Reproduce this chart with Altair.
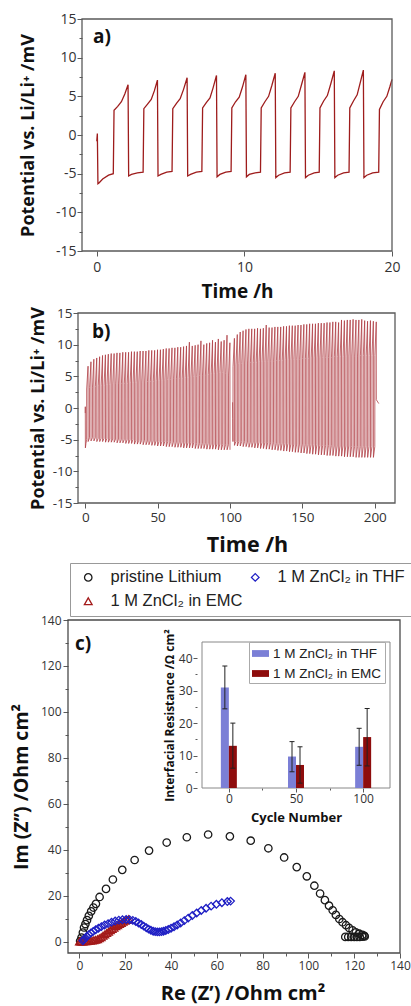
import altair as alt
import pandas as pd

# ====================== DATA ======================
# Panel a) first 20 h of Li|Li cycling
a_time_h = [
    0.00, 0.04, 0.08, 0.15, 0.40, 0.80, 1.12,
    1.17, 1.42, 1.67, 1.90, 2.12, 2.16, 2.35, 2.75, 3.14,
    3.19, 3.44, 3.69, 3.90, 4.11, 4.15, 4.34, 4.74, 5.10,
    5.15, 5.40, 5.65, 5.88, 6.12, 6.16, 6.35, 6.75, 7.12,
    7.17, 7.42, 7.67, 7.88, 8.11, 8.15, 8.34, 8.74, 9.10,
    9.15, 9.40, 9.65, 9.87, 10.10, 10.14, 10.33, 10.73, 11.09,
    11.14, 11.39, 11.64, 11.86, 12.09, 12.13, 12.32, 12.72, 13.10,
    13.15, 13.40, 13.65, 13.87, 14.10, 14.14, 14.33, 14.73, 15.07,
    15.12, 15.37, 15.62, 15.85, 16.09, 16.13, 16.32, 16.72, 17.09,
    17.14, 17.39, 17.64, 17.84, 18.06, 18.10, 18.29, 18.69, 19.10,
    19.15, 19.40, 19.65, 19.85, 20.00,
]
a_potential_mv = [
    -0.8, 0.2, -6.3, -6.2, -5.7, -5.2, -5.0,
    3.2, 3.7, 4.3, 5.3, 6.5, -5.3, -5.1, -4.9, -4.8,
    3.4, 4.0, 4.6, 5.7, 7.1, -5.3, -5.1, -4.8, -4.7,
    3.4, 4.1, 4.7, 5.9, 7.4, -5.3, -5.1, -4.8, -4.7,
    3.5, 4.2, 4.8, 6.1, 7.7, -5.4, -5.1, -4.8, -4.7,
    3.5, 4.3, 4.9, 6.2, 7.8, -5.4, -5.1, -4.9, -4.8,
    3.5, 4.3, 5.0, 6.4, 8.0, -5.5, -5.2, -4.9, -4.8,
    3.5, 4.3, 5.0, 6.5, 8.1, -5.5, -5.2, -4.9, -4.8,
    3.5, 4.4, 5.1, 6.6, 8.3, -5.5, -5.2, -4.9, -4.8,
    3.5, 4.4, 5.2, 6.7, 8.4, -5.5, -5.2, -4.9, -4.8,
    3.3, 4.3, 5.0, 6.2, 7.2,
]

# Panel b) 200 h, one value per cycle (1 h / 1 h steps)
b_cycle_start_h = [1.0 + 2.0 * k for k in range(50)] + [102.1 + 2.0 * k for k in range(50)]
b_peak_mv = [
    6.6, 7.3, 7.7, 7.9, 8.1, 8.3, 8.4, 8.5, 8.6, 8.6,
    8.7, 8.7, 8.8, 8.8, 8.8, 8.9, 8.9, 8.9, 9.0, 9.0,
    9.0, 9.1, 9.1, 9.1, 9.2, 9.2, 9.3, 9.4, 9.4, 9.5,
    9.5, 9.6, 9.6, 9.7, 9.8, 10.4, 9.8, 9.9, 10.0, 10.6,
    10.0, 10.2, 10.3, 10.7, 10.4, 10.9, 10.5, 10.7, 11.5, 10.3,
    11.0, 11.6, 12.0, 12.2, 12.4, 12.5, 12.5, 12.5, 12.6, 12.5,
    12.6, 13.1, 12.7, 12.7, 12.8, 12.8, 12.8, 12.9, 12.9, 13.0,
    13.0, 13.0, 13.1, 13.1, 13.2, 13.2, 13.3, 13.3, 13.3, 13.4,
    13.4, 13.4, 13.5, 13.5, 13.6, 13.6, 13.5, 13.9, 13.8, 13.9,
    13.9, 14.0, 13.9, 13.9, 14.0, 13.8, 13.7, 13.8, 13.7, 13.6,
]
b_jump_mv = [
    3.0, 3.2, 3.3, 3.4, 3.5, 3.6, 3.6, 3.7, 3.7, 3.8,
    3.8, 3.8, 3.9, 3.9, 3.9, 4.0, 4.0, 4.0, 4.1, 4.1,
    4.1, 4.2, 4.2, 4.2, 4.3, 4.3, 4.4, 4.4, 4.5, 4.5,
    4.6, 4.6, 4.7, 4.7, 4.8, 4.8, 4.9, 5.0, 5.0, 5.1,
    5.2, 5.2, 5.3, 5.4, 5.4, 5.5, 5.6, 5.6, 5.5, 5.2,
    6.5, 6.8, 7.0, 7.0, 7.1, 7.1, 7.2, 7.2, 7.2, 7.3,
    7.3, 7.3, 7.4, 7.4, 7.4, 7.5, 7.5, 7.5, 7.6, 7.6,
    7.6, 7.7, 7.7, 7.7, 7.8, 7.8, 7.8, 7.9, 7.9, 7.9,
    7.9, 8.0, 8.0, 8.0, 8.0, 8.1, 8.1, 8.1, 8.1, 8.2,
    8.2, 8.2, 8.2, 8.2, 8.3, 8.3, 8.3, 8.3, 8.3, 8.3,
]
b_trough_mv = [
    -5.3, -5.2, -5.2, -5.3, -5.3, -5.3, -5.4, -5.4, -5.4, -5.4,
    -5.5, -5.5, -5.5, -5.6, -5.6, -5.6, -5.7, -5.7, -5.7, -5.8,
    -5.8, -5.8, -5.9, -5.9, -6.0, -6.0, -6.0, -6.1, -6.1, -6.1,
    -6.2, -6.2, -6.2, -6.3, -6.3, -6.3, -6.3, -6.4, -6.4, -6.4,
    -6.4, -6.5, -6.5, -6.5, -6.5, -6.6, -6.6, -6.6, -6.6, -6.6,
    -5.9, -6.0, -6.0, -6.1, -6.1, -6.2, -6.2, -6.3, -6.3, -6.4,
    -6.4, -6.5, -6.5, -6.6, -6.6, -6.7, -6.7, -6.8, -6.8, -6.9,
    -6.9, -7.0, -7.0, -7.1, -7.1, -7.2, -7.2, -7.3, -7.3, -7.4,
    -7.4, -7.4, -7.5, -7.5, -7.5, -7.6, -7.6, -7.6, -7.7, -7.7,
    -7.7, -7.7, -7.8, -7.8, -7.8, -7.8, -7.8, -7.8, -7.8, -7.8,
]
b_plateau_mv = [
    -4.7, -4.7, -4.7, -4.8, -4.8, -4.8, -4.8, -4.9, -4.9, -4.9,
    -4.9, -5.0, -5.0, -5.0, -5.0, -5.0, -5.1, -5.1, -5.1, -5.1,
    -5.2, -5.2, -5.2, -5.2, -5.3, -5.3, -5.3, -5.3, -5.3, -5.4,
    -5.4, -5.4, -5.4, -5.5, -5.5, -5.5, -5.5, -5.6, -5.6, -5.6,
    -5.6, -5.6, -5.7, -5.7, -5.7, -5.7, -5.8, -5.8, -5.8, -5.8,
    -5.3, -5.3, -5.3, -5.3, -5.4, -5.4, -5.4, -5.4, -5.4, -5.5,
    -5.5, -5.5, -5.5, -5.5, -5.6, -5.6, -5.6, -5.6, -5.6, -5.7,
    -5.7, -5.7, -5.7, -5.7, -5.8, -5.8, -5.8, -5.8, -5.8, -5.9,
    -5.9, -5.9, -5.9, -5.9, -6.0, -6.0, -6.0, -6.0, -6.0, -6.0,
    -6.1, -6.1, -6.1, -6.1, -6.1, -6.1, -6.1, -6.1, -6.1, -6.1,
]
b_lead_in_h = [0.0, 0.05, 0.10, 0.50, 0.95]
b_lead_in_mv = [-0.8, 0.2, -6.3, -5.6, -5.0]
b_restart_h = [101.8, 101.95, 102.05]
b_restart_mv = [0.9, -1.7, -5.3]
b_rest_end_h = [201.1, 201.7, 202.8]
b_rest_end_mv = [1.3, 1.1, 0.7]

# Panel c) Nyquist plots
series_names = ["pristine Lithium", "1 M ZnCl\u2082 in THF", "1 M ZnCl\u2082 in EMC"]
pristine_re = [0.3, 0.9, 1.5, 2.0, 2.6, 3.3, 4.1, 5.1, 6.1, 7.2,
               8.8, 11.6, 14.6, 18.7, 24.1, 30.4, 38.1, 46.9, 56.2, 65.7,
               74.8, 82.5, 89.4, 94.9, 99.3, 102.6, 105.1, 107.2, 109.0, 110.6,
               112.0, 113.5, 114.9, 116.4, 117.8, 119.3, 120.7, 122.2, 123.6, 124.4,
               124.6, 123.6, 122.4, 121.2, 120.0, 118.7, 117.4, 116.1]
pristine_im = [0.2, 1.7, 3.9, 6.1, 7.6, 9.3, 11.2, 13.1, 14.8, 16.4,
               19.4, 22.9, 27.0, 31.2, 35.5, 39.6, 43.1, 45.4, 46.6, 45.8,
               43.9, 40.6, 36.6, 32.4, 28.4, 24.3, 20.9, 18.0, 15.6, 13.6,
               11.6, 9.8, 8.4, 7.1, 5.9, 4.9, 4.0, 3.4, 2.9, 2.5,
               2.2, 2.1, 2.0, 2.0, 2.0, 2.0, 2.0, 2.0]
thf_re = [1.5, 2.0, 2.6, 3.3, 4.1, 5.0, 6.0, 7.1, 8.3, 9.6,
          11.0, 12.5, 14.0, 15.6, 17.2, 18.8, 20.4, 21.9, 23.3, 24.6,
          25.8, 27.0, 28.1, 29.2, 30.2, 31.2, 32.2, 33.1, 34.0, 34.9,
          35.8, 36.7, 37.7, 38.8, 40.0, 41.3, 42.7, 44.2, 45.8, 47.5,
          49.3, 51.2, 53.2, 55.3, 57.5, 59.8, 62.2, 64.6, 66.0]
thf_im = [0.3, 0.9, 1.6, 2.3, 3.0, 3.7, 4.4, 5.1, 5.8, 6.5,
          7.2, 7.8, 8.4, 8.9, 9.3, 9.5, 9.6, 9.5, 9.2, 8.7,
          8.1, 7.4, 6.7, 6.0, 5.4, 4.9, 4.5, 4.3, 4.2, 4.2,
          4.3, 4.5, 4.8, 5.2, 5.8, 6.4, 7.2, 8.1, 9.1, 10.2,
          11.3, 12.4, 13.5, 14.5, 15.4, 16.2, 16.9, 17.4, 17.6]
emc_re = [0.0, 0.5, 1.1, 1.7, 2.4, 3.1, 3.9, 4.7, 5.5, 6.3,
          7.1, 7.9, 8.7, 9.5, 10.3, 11.1, 11.9, 12.7, 13.5, 14.3,
          15.1, 15.9, 16.7, 17.5, 18.3, 19.1, 19.9, 20.7, 21.5]
emc_im = [0.0, 0.0, 0.0, 0.05, 0.1, 0.15, 0.2, 0.3, 0.4, 0.55,
          0.75, 1.0, 1.4, 1.9, 2.5, 3.1, 3.7, 4.3, 4.9, 5.5,
          6.0, 6.6, 7.1, 7.6, 8.1, 8.6, 9.0, 9.4, 9.7]

# Inset: interfacial resistance vs cycle number
inset_cycles = [0, 50, 100]
solvents = ["1 M ZnCl\u2082 in THF", "1 M ZnCl\u2082 in EMC"]
thf_mean = [31.0, 9.7, 12.7]
thf_low = [24.4, 5.0, 7.0]
thf_high = [37.6, 14.3, 18.4]
emc_mean = [13.0, 7.1, 15.7]
emc_low = [6.1, 1.5, 6.8]
emc_high = [20.0, 12.7, 24.5]

# axis domains and ticks
a_x_domain, a_y_domain = [-1, 20], [-15, 15]
b_x_domain, b_y_domain = [-5, 214], [-15, 15]
c_x_domain, c_y_domain = [-5, 140], [-5, 140]
i_x_domain, i_y_domain = [-20, 120], [0, 45]
pot_ticks = [-15, -12.5, -10, -7.5, -5, -2.5, 0, 2.5, 5, 7.5, 10, 12.5, 15]
c_ticks = list(range(0, 141, 10))
inset_y_ticks = [0, 5, 10, 15, 20, 25, 30, 35, 40]
inset_x_ticks = [0, 25, 50, 75, 100]

# ====================== LAYOUT (pixel boxes of each plot area) ======================
W, H = 411, 1006
BOX_A = (82, 392, 19, 251)     # x0, x1, y0(top), y1(bottom)
BOX_B = (78, 395, 313, 503)
BOX_C = (68, 400, 620, 953)
BOX_I = (197, 395, 642, 788)

FONT = "Open Sans"
FRAME = "#5a5a5a"
POT_TITLE = "Potential vs. Li/Li\u207a /mV"


def xs(domain, box):
    return alt.Scale(domain=domain, range=[box[0], box[1]], nice=False, zero=False)


def ys(domain, box):
    return alt.Scale(domain=domain, range=[box[3], box[2]], nice=False)


def major_minor(step, big=5, small=3):
    return {"condition": {"test": f"datum.value % {step} === 0", "value": big}, "value": small}


def major_labels(step):
    return f"datum.value % {step} === 0 ? '' + datum.value : ''"


def left_axis(box, **kw):
    return alt.Axis(orient="left", offset=-box[0], domain=False, grid=False, labelOverlap=False, **kw)


def bottom_axis(box, **kw):
    return alt.Axis(orient="bottom", offset=box[3] - H, domain=False, grid=False, labelOverlap=False,
                    labelFlush=False, **kw)


def frame(xdom, ydom, xsc, ysc, xax, yax, fill="transparent", stroke=FRAME, width=1.3):
    df = pd.DataFrame({"x0": [xdom[0]], "x1": [xdom[1]], "y0": [ydom[0]], "y1": [ydom[1]]})
    return alt.Chart(df).mark_rect(fill=fill, stroke=stroke, strokeWidth=width).encode(
        x=alt.X("x0:Q", scale=xsc, axis=xax), x2="x1:Q",
        y=alt.Y("y0:Q", scale=ysc, axis=yax), y2="y1:Q",
    )


def panel_label(text, x, y):
    return alt.Chart(pd.DataFrame({"l": [text]})).mark_text(
        align="left", baseline="middle", font=FONT, fontSize=19, fontWeight="bold", color="#111"
    ).encode(x=alt.value(x), y=alt.value(y), text="l:N")


# ====================== PANEL A ======================
a_xs, a_ys = xs(a_x_domain, BOX_A), ys(a_y_domain, BOX_A)
a_xax = bottom_axis(BOX_A, values=[0, 10, 20], title="Time /h", titleFontSize=19, labelFontSize=14,
                    titlePadding=8, labelPadding=4, tickSize=5)
a_yax = left_axis(BOX_A, values=pot_ticks, labelExpr=major_labels(5), tickSize=major_minor(5),
                  title=POT_TITLE, titleFontSize=18, labelFontSize=14, titlePadding=17.5, labelPadding=1)
a_df = pd.DataFrame({"t": a_time_h, "v": a_potential_mv, "i": range(len(a_time_h))})
a_line = alt.Chart(a_df).mark_line(color="#9e1c1c", strokeWidth=1.3, clip=True).encode(
    x=alt.X("t:Q", scale=a_xs, axis=a_xax),
    y=alt.Y("v:Q", scale=a_ys, axis=a_yax),
    order="i:Q",
)
panel_a = alt.layer(a_line, frame(a_x_domain, a_y_domain, a_xs, a_ys, a_xax, a_yax),
                    panel_label("a)", 93, 37))

# ====================== PANEL B ======================
b_t, b_v, b_s = [], [], []


def add(t, v, s):
    b_t.append(t)
    b_v.append(v)
    b_s.append(s)


for t, v in zip(b_lead_in_h, b_lead_in_mv):
    add(t, v, 1)
for k in range(50):
    s0 = b_cycle_start_h[k]
    add(s0, b_jump_mv[k], 1)
    add(s0 + 0.95, b_peak_mv[k], 1)
    add(s0 + 1.0, b_trough_mv[k], 1)
    if k < 49:
        add(s0 + 1.95, b_plateau_mv[k], 1)
for t, v in zip(b_restart_h, b_restart_mv):
    add(t, v, 2)
for k in range(50, 100):
    s0 = b_cycle_start_h[k]
    add(s0, b_jump_mv[k], 2)
    add(s0 + 0.95, b_peak_mv[k], 2)
    if k < 99:
        add(s0 + 1.0, b_trough_mv[k], 2)
        add(s0 + 1.95, b_plateau_mv[k], 2)
for t, v in zip(b_rest_end_h, b_rest_end_mv):
    add(t, v, 2)

b_xs, b_ys = xs(b_x_domain, BOX_B), ys(b_y_domain, BOX_B)
b_xax = bottom_axis(BOX_B, values=[0, 50, 100, 150, 200], title="Time /h", titleFontSize=21.5,
                    labelFontSize=13.5, titlePadding=10.5, labelPadding=2, tickSize=5, titleX=247)
b_yax = left_axis(BOX_B, values=pot_ticks, labelExpr=major_labels(5), tickSize=major_minor(5),
                  title=POT_TITLE, titleFontSize=18, labelFontSize=13.5, titlePadding=4.5, labelPadding=1)
b_df = pd.DataFrame({"t": b_t, "v": b_v, "seg": b_s, "i": range(len(b_t))})
b_line = alt.Chart(b_df).mark_line(color="#ad3a40", strokeWidth=0.9, opacity=0.85, clip=True).encode(
    x=alt.X("t:Q", scale=b_xs, axis=b_xax),
    y=alt.Y("v:Q", scale=b_ys, axis=b_yax),
    detail="seg:N",
    order="i:Q",
)
panel_b = alt.layer(b_line, frame(b_x_domain, b_y_domain, b_xs, b_ys, b_xax, b_yax),
                    panel_label("b)", 92, 332))

# ====================== PANEL C (Nyquist) ======================
c_df = pd.DataFrame({
    "re": pristine_re + emc_re + thf_re,
    "im": pristine_im + emc_im + thf_im,
    "series": [series_names[0]] * len(pristine_re) + [series_names[2]] * len(emc_re)
    + [series_names[1]] * len(thf_re),
})
main_legend = alt.Legend(
    orient="none", legendX=70, legendY=563, title=None, columns=2, direction="horizontal",
    labelFont="Liberation Sans", labelFontSize=16.5, labelColor="#222",
    symbolSize=40, symbolStrokeWidth=1.3, symbolOffset=4, labelOffset=14,
    columnPadding=-31, rowPadding=7, padding=6, strokeColor="#999", fillColor="white",
)
c_xs, c_ys = xs(c_x_domain, BOX_C), ys(c_y_domain, BOX_C)
c_xax = bottom_axis(BOX_C, values=c_ticks, labelExpr=major_labels(20), tickSize=major_minor(20),
                    title="Re (Z\u2019) /Ohm cm\u00b2", titleFontSize=20, labelFontSize=12,
                    titlePadding=12.5, labelPadding=2, titleX=242.5)
c_yax = left_axis(BOX_C, values=c_ticks, labelExpr=major_labels(20), tickSize=major_minor(20),
                  title="Im (Z\u2019\u2019) /Ohm cm\u00b2", titleFontSize=19.5, labelFontSize=12,
                  titlePadding=8.5, labelPadding=2)
c_points = alt.Chart(c_df).mark_point(filled=False, strokeWidth=1.3, opacity=1).encode(
    x=alt.X("re:Q", scale=c_xs, axis=c_xax),
    y=alt.Y("im:Q", scale=c_ys, axis=c_yax),
    color=alt.Color("series:N", scale=alt.Scale(domain=series_names,
                                                range=["#1a1a1a", "#1f1fc4", "#a31a1a"]),
                    legend=main_legend),
    shape=alt.Shape("series:N", scale=alt.Scale(domain=series_names,
                                                range=["circle", "diamond", "triangle-up"]),
                    legend=main_legend),
    size=alt.Size("series:N", scale=alt.Scale(domain=series_names, range=[55, 60, 30]), legend=None),
)
panel_c = alt.layer(frame(c_x_domain, c_y_domain, c_xs, c_ys, c_xax, c_yax, stroke="#4a4a4a"),
                    c_points, panel_label("c)", 75, 644))

# ====================== INSET ======================
i_xs, i_ys = xs(i_x_domain, BOX_I), ys(i_y_domain, BOX_I)
i_xax = bottom_axis(BOX_I, values=inset_x_ticks, labelExpr=major_labels(50),
                    tickSize=major_minor(50, 4, 2), title="Cycle Number", titleFontSize=13,
                    labelFontSize=12, titlePadding=7, labelPadding=1)
i_yax = left_axis(BOX_I, values=inset_y_ticks, labelExpr=major_labels(10),
                  tickSize=major_minor(10, 4, 2), title="Interfacial Resistance /\u03a9 cm\u00b2",
                  titleFontSize=12, labelFontSize=12, titlePadding=2, labelPadding=1)
inset_legend = alt.Legend(
    orient="none", legendX=249, legendY=642, title=None,
    symbolType="M-1,-0.4H1V0.4H-1Z", symbolSize=289, symbolStrokeWidth=0,
    labelFont="Liberation Sans", labelFontSize=13.5, labelColor="#222", labelOffset=4,
    padding=3, rowPadding=5, strokeColor="#aaa", fillColor="white",
)
inset_color = alt.Scale(domain=solvents, range=["#7b7fd6", "#8e0c0c"])
bars_df = pd.DataFrame({
    "cycle": inset_cycles * 2,
    "solvent": [solvents[0]] * 3 + [solvents[1]] * 3,
    "mean": thf_mean + emc_mean,
    "lo": thf_low + emc_low,
    "hi": thf_high + emc_high,
})


def inset_layers(solvent, dx):
    base = alt.Chart(bars_df).transform_filter(alt.datum.solvent == solvent)
    bar = base.mark_bar(orient="vertical", width=8, xOffset=dx, opacity=1).encode(
        x=alt.X("cycle:Q", scale=i_xs, axis=i_xax),
        y=alt.Y("mean:Q", scale=i_ys, axis=i_yax),
        color=alt.Color("solvent:N", scale=inset_color, legend=inset_legend),
    )
    err = base.mark_rule(color="#222", strokeWidth=1, xOffset=dx).encode(
        x=alt.X("cycle:Q", scale=i_xs, axis=i_xax),
        y=alt.Y("lo:Q", scale=i_ys, axis=i_yax), y2="hi:Q",
    )
    caps = base.transform_fold(["lo", "hi"], as_=["end", "val"]).mark_tick(
        orient="horizontal", size=5, thickness=1, xOffset=dx, color="#222", opacity=1
    ).encode(
        x=alt.X("cycle:Q", scale=i_xs, axis=i_xax),
        y=alt.Y("val:Q", scale=i_ys, axis=i_yax),
    )
    return [bar, err, caps]


panel_inset = alt.layer(
    frame(i_x_domain, i_y_domain, i_xs, i_ys, i_xax, i_yax, fill="white", stroke="#888", width=1),
    *inset_layers(solvents[0], -4), *inset_layers(solvents[1], 4),
)

# ====================== ASSEMBLE ======================
chart = alt.layer(panel_a, panel_b, panel_c, panel_inset).resolve_scale(
    x="independent", y="independent", color="independent", shape="independent", size="independent"
).properties(
    width=W, height=H, padding=0, autosize=alt.AutoSizeParams(type="none")
).configure_view(
    stroke="transparent"
).configure_axis(
    labelFont=FONT, titleFont=FONT, titleFontWeight="bold", titleColor="#111",
    labelColor="#333", tickColor=FRAME, tickWidth=1,
)

chart.save("out.html", embed_options={"renderer": "svg", "actions": False})
